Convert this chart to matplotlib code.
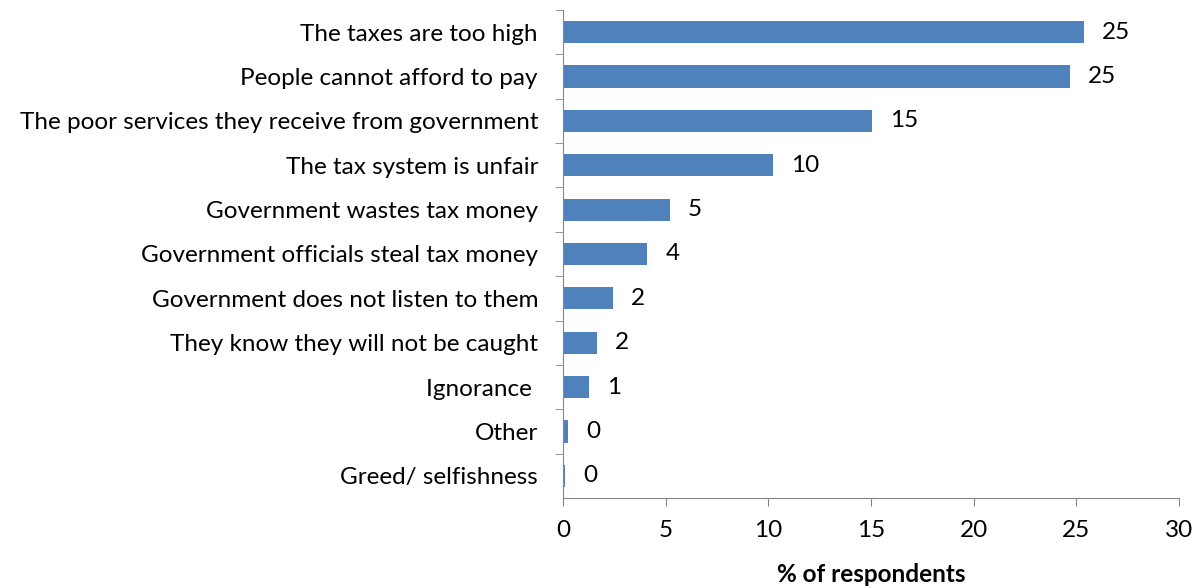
import matplotlib.pyplot as plt

# DATA
reasons = ["The taxes are too high", "People cannot afford to pay",
           "The poor services they receive from government", "The tax system is unfair",
           "Government wastes tax money", "Government officials steal tax money",
           "Government does not listen to them", "They know they will not be caught",
           "Ignorance ", "Other", "Greed/ selfishness"]
pct = [25.35, 24.7, 15.05, 10.25, 5.2, 4.1, 2.45, 1.65, 1.25, 0.25, 0.1]
xticks = [0, 5, 10, 15, 20, 25, 30]

plt.rcParams['font.family'] = ['Lato', 'DejaVu Sans']
fs = 17.5
fig = plt.figure(figsize=(11.97, 5.88), dpi=100)
ax = fig.add_axes([563 / 1197, 1 - 498 / 588, 616 / 1197, 488 / 588])

pos = list(range(len(reasons)))[::-1]
bars = ax.barh(pos, pct, height=0.5, color='#4F81BD')
ax.bar_label(bars, labels=['%.0f' % v for v in pct], padding=13, fontsize=fs)

ax.set_ylim(-0.5, len(reasons) - 0.5)
ax.set_xlim(0, 30)
ax.set_xticks(xticks)
ax.set_yticks(pos)
ax.set_yticklabels(reasons, fontsize=fs)
ax.set_yticks([p + 0.5 for p in range(len(reasons))], minor=True)
ax.tick_params(axis='y', which='major', length=0, pad=18)
ax.tick_params(axis='y', which='minor', length=6, color='#868686', direction='out')
ax.tick_params(axis='x', labelsize=fs, length=6, color='#868686', pad=10)
for s in ['top', 'right']:
    ax.spines[s].set_visible(False)
for s in ['left', 'bottom']:
    ax.spines[s].set_color('#868686')
ax.set_xlabel('% of respondents', fontsize=fs, fontweight='bold', labelpad=16)

fig.savefig('out.png', dpi=100)
